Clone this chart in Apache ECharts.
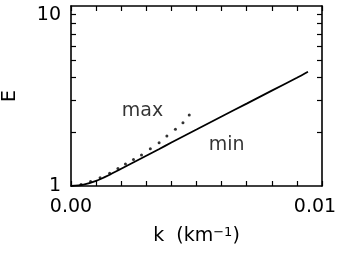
<!DOCTYPE html>
<html>
<head>
<meta charset="utf-8">
<script src="https://cdn.jsdelivr.net/npm/echarts@6/dist/echarts.min.js"></script>
<style>
  html, body { margin: 0; padding: 0; background: #fff; }
  #chart { width: 341px; height: 258px; }
</style>
</head>
<body>
<div id="chart"></div>
<script>
// solid curve ("min")
var minK = [0, 0.0005, 0.001, 0.0015, 0.002, 0.0025, 0.003, 0.0035, 0.004, 0.0045, 0.005, 0.006, 0.007, 0.008, 0.009, 0.00944];
var minE = [1.000, 1.018, 1.069, 1.148, 1.246, 1.354, 1.472, 1.601, 1.743, 1.896, 2.059, 2.433, 2.869, 3.387, 3.995, 4.316];

// dotted points ("max")
var maxK = [0.00040, 0.00078, 0.00116, 0.00154, 0.00187, 0.00217, 0.00249, 0.00281, 0.00316, 0.00351, 0.00382, 0.00416, 0.00446, 0.00471];
var maxE = [1.019, 1.059, 1.112, 1.176, 1.251, 1.325, 1.402, 1.486, 1.609, 1.738, 1.896, 2.066, 2.247, 2.48];

// text labels inside the plot
var notes = [
  { name: 'max', k: 0.00285, e: 2.60 },
  { name: 'min', k: 0.0062, e: 1.69 }
];

var xLabels = [0, 0.01];
var xStep = 0.001;
var yLabels = [1, 10];
var yMinor = [2, 3, 4, 5, 6, 7, 8, 9];

var font = 'DejaVu Sans';
var ink = '#000';

function pairs(xs, ys) {
  return xs.map(function (x, i) { return [x, ys[i]]; });
}

var chart = echarts.init(document.getElementById('chart'));

function xAxisOpt(pos, withLabels) {
  var opt = {
    type: 'value',
    position: pos,
    min: xLabels[0],
    max: xLabels[1],
    interval: xStep,
    axisLine: { show: true, onZero: false, lineStyle: { color: ink, width: 1.6 } },
    axisTick: { show: true, interval: 0, inside: true, length: 5, lineStyle: { color: ink, width: 1.2 } },
    splitLine: { show: false },
    axisLabel: { show: false }
  };
  if (withLabels) {
    opt.axisLabel = {
      show: true,
      customValues: xLabels,
      margin: 12,
      fontSize: 19,
      color: ink,
      fontFamily: font,
      formatter: function (v) {
        return v === xLabels[1] ? '{r|' + v.toFixed(2) + '}' : v.toFixed(2);
      },
      rich: { r: { fontSize: 19, fontFamily: font, color: ink, padding: [0, 14, 0, 0] } }
    };
    opt.name = '{t|k  (km}{s|\u22121}{t|)}';
    opt.nameLocation = 'middle';
    opt.nameGap = 40;
    opt.nameTextStyle = {
      rich: {
        t: { fontSize: 19, fontFamily: font, color: ink },
        s: { fontSize: 13, fontFamily: font, color: ink, verticalAlign: 'top', padding: [0, 0, 7, 0] }
      }
    };
  }
  return opt;
}

function yAxisOpt(pos, withLabels) {
  var opt = {
    type: 'log',
    logBase: 10,
    position: pos,
    min: yLabels[0],
    max: yLabels[1],
    axisLine: { show: true, onZero: false, lineStyle: { color: ink, width: 1.6 } },
    axisTick: { show: true, inside: true, length: 5, customValues: yMinor.slice(), lineStyle: { color: ink, width: 1.2 } },
    splitLine: { show: false },
    axisLabel: { show: false }
  };
  if (withLabels) {
    opt.axisLabel = {
      show: true,
      customValues: yLabels,
      margin: 10,
      fontSize: 19,
      color: ink,
      fontFamily: font,
      verticalAlignMaxLabel: 'top'
    };
    opt.name = 'E';
    opt.nameLocation = 'middle';
    opt.nameGap = 51;
    opt.nameTextStyle = { fontSize: 19, fontFamily: font, color: ink };
  }
  return opt;
}

var option = {
  animation: false,
  backgroundColor: '#fff',
  textStyle: { fontFamily: font },
  grid: { left: 71, right: 19, top: 6, bottom: 72, containLabel: false, outerBoundsMode: 'none' },
  xAxis: [xAxisOpt('bottom', true), xAxisOpt('top', false)],
  yAxis: [yAxisOpt('left', true), yAxisOpt('right', false)],
  series: [
    {
      name: 'min',
      type: 'line',
      data: pairs(minK, minE),
      smooth: 0.3,
      showSymbol: false,
      lineStyle: { color: ink, width: 1.8 },
      z: 3
    },
    {
      name: 'max',
      type: 'scatter',
      data: pairs(maxK, maxE),
      symbol: 'circle',
      symbolSize: 3,
      itemStyle: { color: ink },
      z: 3
    },
    {
      name: 'notes',
      type: 'scatter',
      data: notes.map(function (n) { return { name: n.name, value: [n.k, n.e] }; }),
      symbolSize: 0,
      silent: true,
      label: {
        show: true,
        position: 'inside',
        formatter: '{b}',
        fontSize: 19,
        fontFamily: font,
        color: ink
      }
    }
  ]
};

chart.setOption(option);
</script>
</body>
</html>
